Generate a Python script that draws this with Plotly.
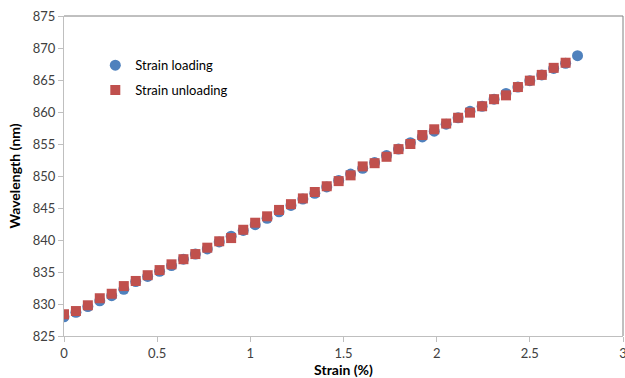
import plotly.graph_objects as go

strain_loading = [0.000, 0.064, 0.128, 0.192, 0.256, 0.321, 0.385, 0.449, 0.513, 0.577,
                  0.641, 0.705, 0.769, 0.833, 0.897, 0.962, 1.026, 1.090, 1.154, 1.218,
                  1.282, 1.346, 1.410, 1.474, 1.538, 1.603, 1.667, 1.731, 1.795, 1.859,
                  1.923, 1.987, 2.051, 2.115, 2.179, 2.244, 2.308, 2.372, 2.436, 2.500,
                  2.564, 2.628, 2.692, 2.756]
wl_loading = [828.0, 828.7, 829.6, 830.5, 831.3, 832.3, 833.5, 834.3, 835.1, 836.0,
              837.0, 837.8, 838.6, 839.7, 840.6, 841.5, 842.4, 843.4, 844.4, 845.4,
              846.4, 847.3, 848.3, 849.3, 850.3, 851.2, 852.1, 853.2, 854.2, 855.2,
              856.1, 857.0, 858.1, 859.1, 860.1, 860.9, 862.0, 862.9, 863.9, 864.9,
              865.8, 866.8, 867.6, 868.8]

strain_unloading = strain_loading[:43]
wl_unloading = [828.4, 828.9, 829.8, 830.9, 831.6, 832.8, 833.6, 834.5, 835.3, 836.2,
                837.0, 837.8, 838.8, 839.8, 840.3, 841.6, 842.7, 843.7, 844.7, 845.6,
                846.5, 847.5, 848.4, 849.2, 850.1, 851.5, 852.0, 853.0, 854.2, 855.0,
                856.4, 857.3, 858.2, 859.1, 859.9, 860.9, 862.0, 862.6, 863.9, 864.9,
                865.8, 866.9, 867.7]

x_ticks = [0, 0.5, 1, 1.5, 2, 2.5, 3]
y_ticks = [825, 830, 835, 840, 845, 850, 855, 860, 865, 870, 875]

FONT = "Lato"

fig = go.Figure()
fig.add_trace(go.Scatter(
    x=strain_loading, y=wl_loading, mode="markers", name="Strain loading",
    legendgroup="a",
    marker=dict(symbol="circle", size=11, color="#4F81BD")))
fig.add_trace(go.Scatter(
    x=strain_unloading, y=wl_unloading, mode="markers", name="Strain unloading",
    legendgroup="b",
    marker=dict(symbol="square", size=10, color="#C0504D")))

fig.update_layout(
    width=625, height=378,
    margin=dict(l=64, r=2, t=16, b=42),
    paper_bgcolor="white", plot_bgcolor="white",
    font=dict(family=FONT, size=13, color="#404040"),
    showlegend=True,
    legend=dict(x=0.056, y=0.893, xanchor="left", yanchor="top",
                bgcolor="rgba(0,0,0,0)", tracegroupgap=5,
                font=dict(family=FONT, size=13, color="#000000")),
    xaxis=dict(range=[0, 3], tickvals=x_ticks, ticktext=[str(v) for v in x_ticks],
               automargin=False, ticklabeloverflow="allow",
               showgrid=False, zeroline=False, showline=True, linecolor="#BFBFBF",
               linewidth=1, ticks="outside", ticklen=5, tickcolor="#BFBFBF",
               title=dict(text="<b>Strain (%)</b>", standoff=0,
                          font=dict(family=FONT, size=14, color="#000000"))),
    yaxis=dict(range=[825, 875], tickvals=y_ticks, automargin=False,
               ticklabeloverflow="allow",
               showgrid=False, zeroline=False, showline=True, linecolor="#BFBFBF",
               linewidth=1, ticks="outside", ticklen=5, tickcolor="#BFBFBF",
               title=dict(text="<b>Wavelength (nm)</b>", standoff=8,
                          font=dict(family=FONT, size=14, color="#000000"))),
    shapes=[
        dict(type="line", xref="paper", yref="paper", x0=0, x1=1, y0=1, y1=1,
             line=dict(color="#808080", width=1)),
        dict(type="line", xref="paper", yref="paper", x0=1, x1=1, y0=0, y1=1,
             line=dict(color="#808080", width=1)),
    ],
)

fig.write_html("out.html", config={"displayModeBar": False},
               post_script="document.body.style.margin='0';document.body.style.overflow='hidden';")
